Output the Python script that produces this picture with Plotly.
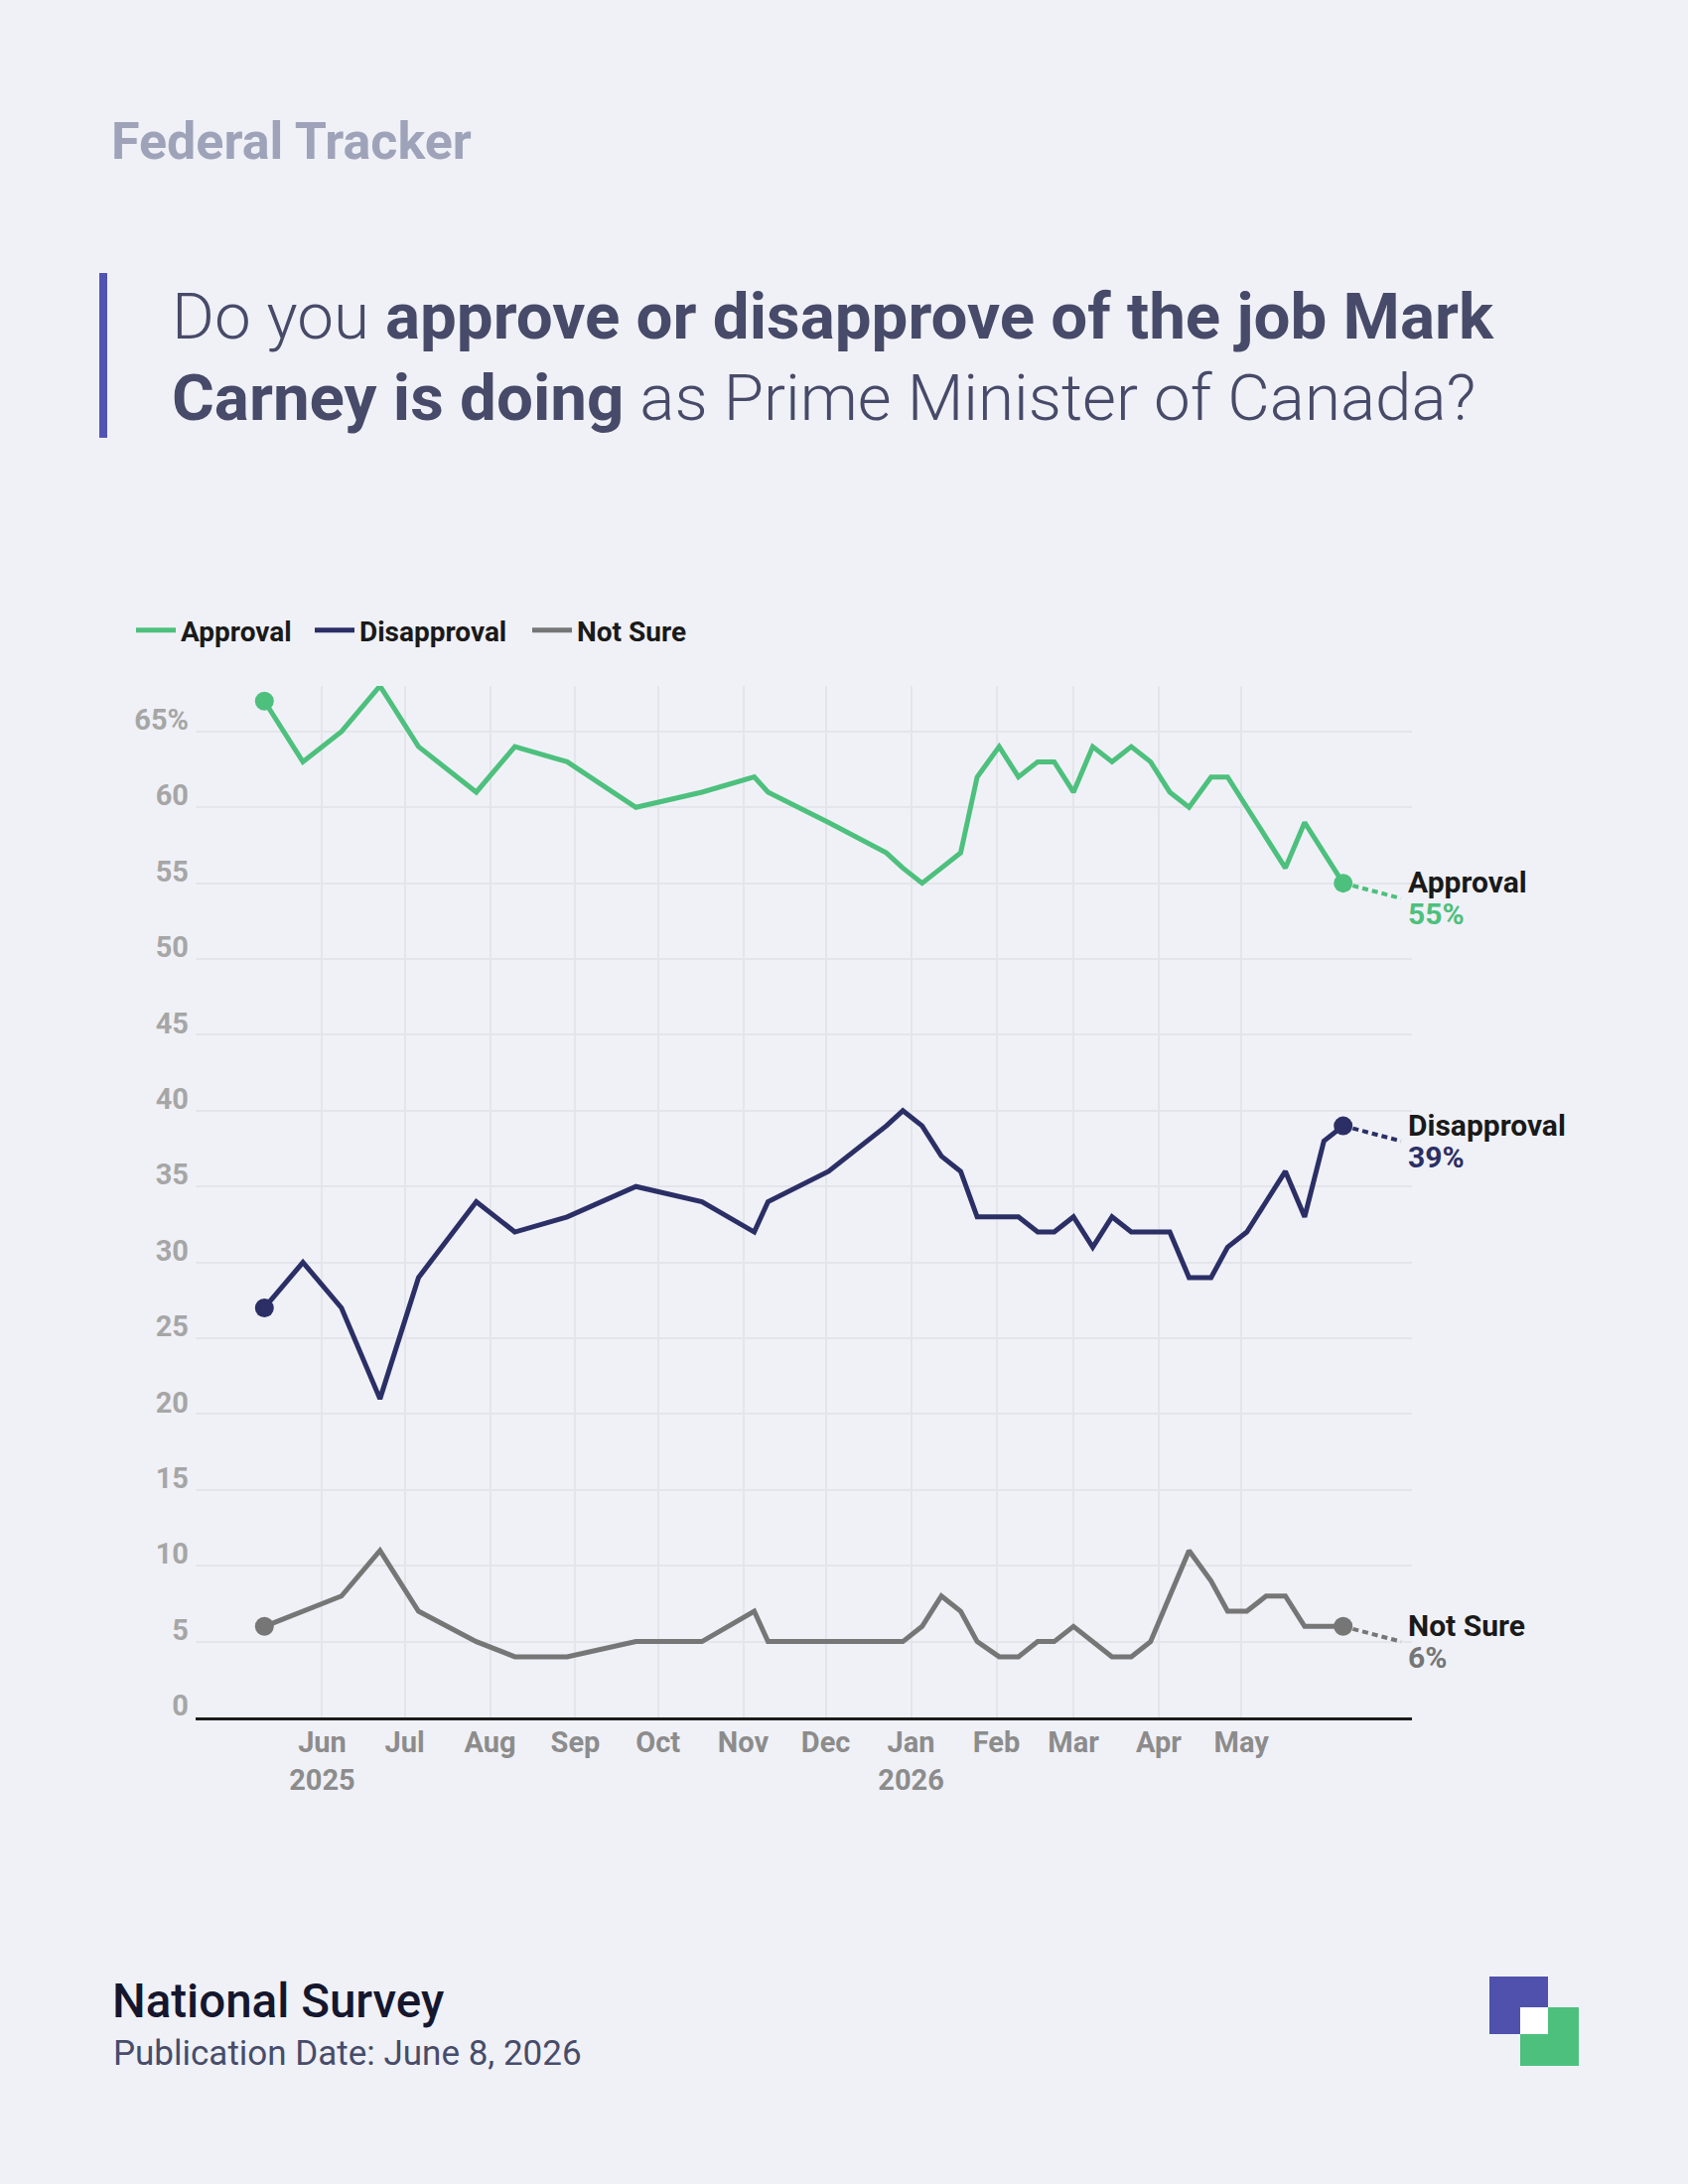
import plotly.graph_objects as go
import pandas as pd

# ---------------- data ----------------
dates = ["2025-05-11", "2025-05-25", "2025-06-08", "2025-06-22", "2025-07-06", "2025-07-27",
         "2025-08-10", "2025-08-29", "2025-09-23", "2025-10-17", "2025-11-05", "2025-11-10",
         "2025-12-02", "2025-12-23", "2025-12-29", "2026-01-05", "2026-01-12", "2026-01-19",
         "2026-01-25", "2026-02-02", "2026-02-09", "2026-02-16", "2026-02-22", "2026-03-01",
         "2026-03-08", "2026-03-15", "2026-03-22", "2026-03-29", "2026-04-05", "2026-04-12",
         "2026-04-20", "2026-04-26", "2026-05-03", "2026-05-10", "2026-05-17", "2026-05-24",
         "2026-05-31", "2026-06-07"]
approval = [67, 63, 65, 68, 64, 61, 64, 63, 60, 61, 62, 61, 59, 57, 56, 55, 56, 57, 62, 64,
            62, 63, 63, 61, 64, 63, 64, 63, 61, 60, 62, 62, 60, 58, 56, 59, 57, 55]
disapproval = [27, 30, 27, 21, 29, 34, 32, 33, 35, 34, 32, 34, 36, 39, 40, 39, 37, 36, 33, 33,
               33, 32, 32, 33, 31, 33, 32, 32, 32, 29, 29, 31, 32, 34, 36, 33, 38, 39]
not_sure = [6, 7, 8, 11, 7, 5, 4, 4, 5, 5, 7, 5, 5, 5, 5, 6, 8, 7, 5, 4, 4, 5, 5, 6, 5, 4, 4,
            5, 8, 11, 9, 7, 7, 8, 8, 6, 6, 6]

series_names = ["Approval", "Disapproval", "Not Sure"]
series_colors = ["#4DC07D", "#2B2F66", "#767676"]
month_ticks = ["2025-06-01", "2025-07-01", "2025-08-01", "2025-09-01", "2025-10-01",
               "2025-11-01", "2025-12-01", "2026-01-01", "2026-02-01", "2026-03-01",
               "2026-04-01", "2026-05-01"]
month_labels = ["Jun<br>2025", "Jul", "Aug", "Sep", "Oct", "Nov", "Dec", "Jan<br>2026",
                "Feb", "Mar", "Apr", "May"]
y_ticks = [0, 5, 10, 15, 20, 25, 30, 35, 40, 45, 50, 55, 60, 65]
y_labels = [str(v) for v in y_ticks[:-1]] + ["65%"]

# ---------------- layout geometry ----------------
W, H = 1700, 2200
L, R, T, B = 197, 1422, 691, 1730
PW, PH = R - L, B - T
BG = "#F0F1F7"
FONT = "Roboto, sans-serif"


def px_x(p):
    return (p - L) / PW


def px_y(p):
    return (B - p) / PH


d = pd.to_datetime(dates)
x_range = [d[0] - pd.Timedelta(days=25), d[-1] + pd.Timedelta(days=25)]

legend_ids = ["legend", "legend2", "legend3"]
legend_left = [132, 312, 531]

fig = go.Figure()
for name, vals, col, lg in zip(series_names, [approval, disapproval, not_sure],
                               series_colors, legend_ids):
    fig.add_trace(go.Scatter(
        x=d, y=vals, mode="lines", name=name, legend=lg,
        line=dict(color=col, width=5),
    ))
for name, vals, col in zip(series_names, [approval, disapproval, not_sure], series_colors):
    # end-point markers
    fig.add_trace(go.Scatter(
        x=[d[0], d[-1]], y=[vals[0], vals[-1]], mode="markers", showlegend=False,
        marker=dict(color=col, size=19), hoverinfo="skip",
    ))
    # dotted connector to label
    fig.add_trace(go.Scatter(
        x=[d[-1], d[-1] + pd.Timedelta(days=21)], y=[vals[-1], vals[-1] - 1],
        mode="lines", showlegend=False, hoverinfo="skip",
        line=dict(color=col, width=4, dash="6px,4px"),
    ))
    lab_x = d[-1] + pd.Timedelta(days=23)
    fig.add_annotation(x=lab_x, y=vals[-1], xref="x", yref="y", xanchor="left",
                       yanchor="middle", yshift=1, showarrow=False, text=name,
                       font=dict(family=FONT, size=30, color="#1A1A1A", weight=700))
    fig.add_annotation(x=lab_x, y=vals[-1], xref="x", yref="y", xanchor="left",
                       yanchor="middle", yshift=-31, showarrow=False,
                       text=f"{vals[-1]}%",
                       font=dict(family=FONT, size=30, color=col, weight=700))

# ---------------- text blocks ----------------
TITLE_COL = "#474A68"
fig.add_annotation(xref="paper", yref="paper", x=px_x(110), y=px_y(142), xanchor="left",
                   yanchor="middle", showarrow=False, text="Federal Tracker",
                   font=dict(family=FONT, size=52, color="#9EA3B9", weight=700))
fig.add_annotation(xref="paper", yref="paper", x=px_x(171), y=px_y(318), xanchor="left",
                   yanchor="middle", showarrow=False,
                   text='<span style="font-weight:300">Do you </span>'
                        '<b>approve or disapprove of the job Mark</b>',
                   font=dict(family=FONT, size=65.5, color=TITLE_COL))
fig.add_annotation(xref="paper", yref="paper", x=px_x(171), y=px_y(401), xanchor="left",
                   yanchor="middle", showarrow=False,
                   text='<b>Carney is doing</b>'
                        '<span style="font-weight:300"> as Prime Minister of Canada?</span>',
                   font=dict(family=FONT, size=65.5, color=TITLE_COL))
fig.add_annotation(xref="paper", yref="paper", x=px_x(111), y=px_y(2016), xanchor="left",
                   yanchor="middle", showarrow=False, text="National Survey",
                   font=dict(family=FONT, size=47.5, color="#15172E", weight=500))
fig.add_annotation(xref="paper", yref="paper", x=px_x(112), y=px_y(2068), xanchor="left",
                   yanchor="middle", showarrow=False, text="Publication Date: June 8, 2026",
                   font=dict(family=FONT, size=35, color="#474C6A", weight=400))

# accent bar and logo
shapes = [
    dict(type="rect", xref="paper", yref="paper", x0=px_x(100), x1=px_x(108),
         y0=px_y(441), y1=px_y(275), fillcolor="#5154B3", line=dict(width=0)),
    dict(type="rect", xref="paper", yref="paper", x0=px_x(1500), x1=px_x(1559),
         y0=px_y(2049), y1=px_y(1991), fillcolor="#4F51AD", line=dict(width=0)),
    dict(type="rect", xref="paper", yref="paper", x0=px_x(1531), x1=px_x(1590),
         y0=px_y(2081), y1=px_y(2022), fillcolor="#4DC07D", line=dict(width=0)),
    dict(type="rect", xref="paper", yref="paper", x0=px_x(1531), x1=px_x(1559),
         y0=px_y(2049), y1=px_y(2022), fillcolor="#FFFFFF", line=dict(width=0)),
]

legend_common = dict(orientation="h", xanchor="left", yanchor="top", y=px_y(610),
                     font=dict(family=FONT, size=28, color="#1A1A1A", weight=700),
                     bgcolor="rgba(0,0,0,0)", itemwidth=40)

fig.update_layout(
    width=W, height=H,
    margin=dict(l=L, r=W - R, t=T, b=H - B, pad=0),
    paper_bgcolor=BG, plot_bgcolor=BG,
    font=dict(family=FONT),
    shapes=shapes,
    showlegend=True,
    legend=dict(x=px_x(legend_left[0]), **legend_common),
    legend2=dict(x=px_x(legend_left[1]), **legend_common),
    legend3=dict(x=px_x(legend_left[2]), **legend_common),
    xaxis=dict(
        type="date", range=x_range, tickmode="array", tickvals=pd.to_datetime(month_ticks),
        ticktext=month_labels, showgrid=True, gridcolor="#E4E5EA", gridwidth=2,
        showline=True, linecolor="#1C1C1C", linewidth=3, ticks="", zeroline=False,
        tickfont=dict(family=FONT, size=29, color="#8C8C8C", weight=700),
        ticklabelstandoff=-3,
    ),
    yaxis=dict(
        range=[0, 68], tickmode="array", tickvals=y_ticks, ticktext=y_labels,
        showgrid=True, gridcolor="#E4E5EA", gridwidth=2, zeroline=False, showline=False,
        ticks="", tickfont=dict(family=FONT, size=29, color="#A6A6A6", weight=700),
        ticklabelshift=-12, ticklabelstandoff=6,
    ),
)

fig.write_html("out.html")
